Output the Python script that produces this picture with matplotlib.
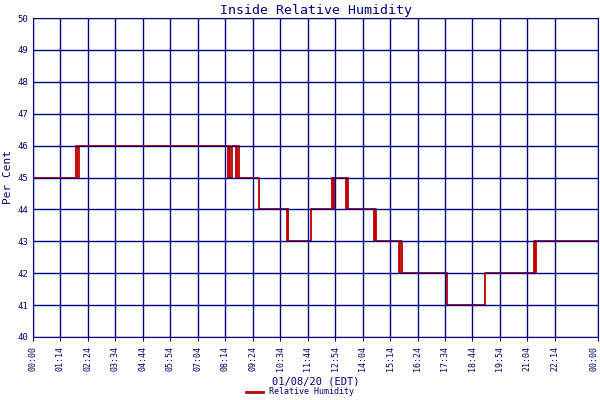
import matplotlib
matplotlib.use("Agg")
import matplotlib.pyplot as plt
from matplotlib.lines import Line2D

# change points (minutes after midnight) and humidity values (%)
times = [0, 110, 113, 116, 497, 500, 503, 506, 518, 521, 524, 576, 647, 649, 651, 708, 762, 764, 766, 768, 798, 800, 803, 869, 871, 874, 933, 936, 940, 1055, 1058, 1152, 1154, 1277, 1280, 1283, 1440]
values = [45, 46, 45, 46, 45, 46, 45, 46, 45, 46, 45, 44, 43, 44, 43, 44, 45, 44, 45, 45, 44, 45, 44, 43, 44, 43, 42, 43, 42, 41, 41, 42, 42, 43, 42, 43, 43]
tick_labels = ["00:00", "01:14", "02:24", "03:34", "04:44", "05:54", "07:04", "08:14", "09:24", "10:34",
               "11:44", "12:54", "14:04", "15:14", "16:24", "17:34", "18:44", "19:54", "21:04", "22:14", "00:00"]
tick_pos = [0, 70, 140, 210, 280, 350, 420, 490, 560, 630, 700, 770, 840, 910, 980, 1050, 1120, 1190, 1260, 1330, 1440]

navy = "#000080"
red = "#c00000"
fam = "DejaVu Sans Mono"

fig = plt.figure(figsize=(6, 4), dpi=100)
ax = fig.add_axes([0.055, 0.1575, 0.9417, 0.7975])
ax.step(times, values, where="post", color=red, lw=1.3, zorder=1)
ax.set_xlim(0, 1440)
ax.set_ylim(40, 50)
ax.set_yticks(range(40, 51))
ax.set_xticks(tick_pos)
ax.set_xticklabels(tick_labels, rotation=90, fontsize=6, family=fam, color=navy)
ax.get_xticklabels()[-1].set_horizontalalignment("right")
ax.tick_params(axis="y", labelsize=6.5, labelcolor=navy, colors=navy, length=0)
ax.tick_params(axis="x", colors=navy, length=3)
for t in ax.get_yticklabels():
    t.set_family(fam)
ax.grid(True, color=navy, lw=1, zorder=2)
ax.set_axisbelow(False)
for s in ax.spines.values():
    s.set_color(navy)
ax.set_title("Inside Relative Humidity", fontsize=9.5, family=fam, color=navy, pad=3)
ax.set_ylabel("Per Cent", fontsize=8, family=fam, color=navy, labelpad=3)
ax.set_xlabel("01/08/20 (EDT)", fontsize=7.5, family=fam, color=navy, labelpad=4)
fig.legend(handles=[Line2D([], [], color=red, lw=2)], labels=["Relative Humidity"],
           loc="lower center", bbox_to_anchor=(0.5, -0.01), frameon=False,
           prop={"family": fam, "size": 6}, labelcolor=navy, handlelength=2)
fig.savefig("out.png")
